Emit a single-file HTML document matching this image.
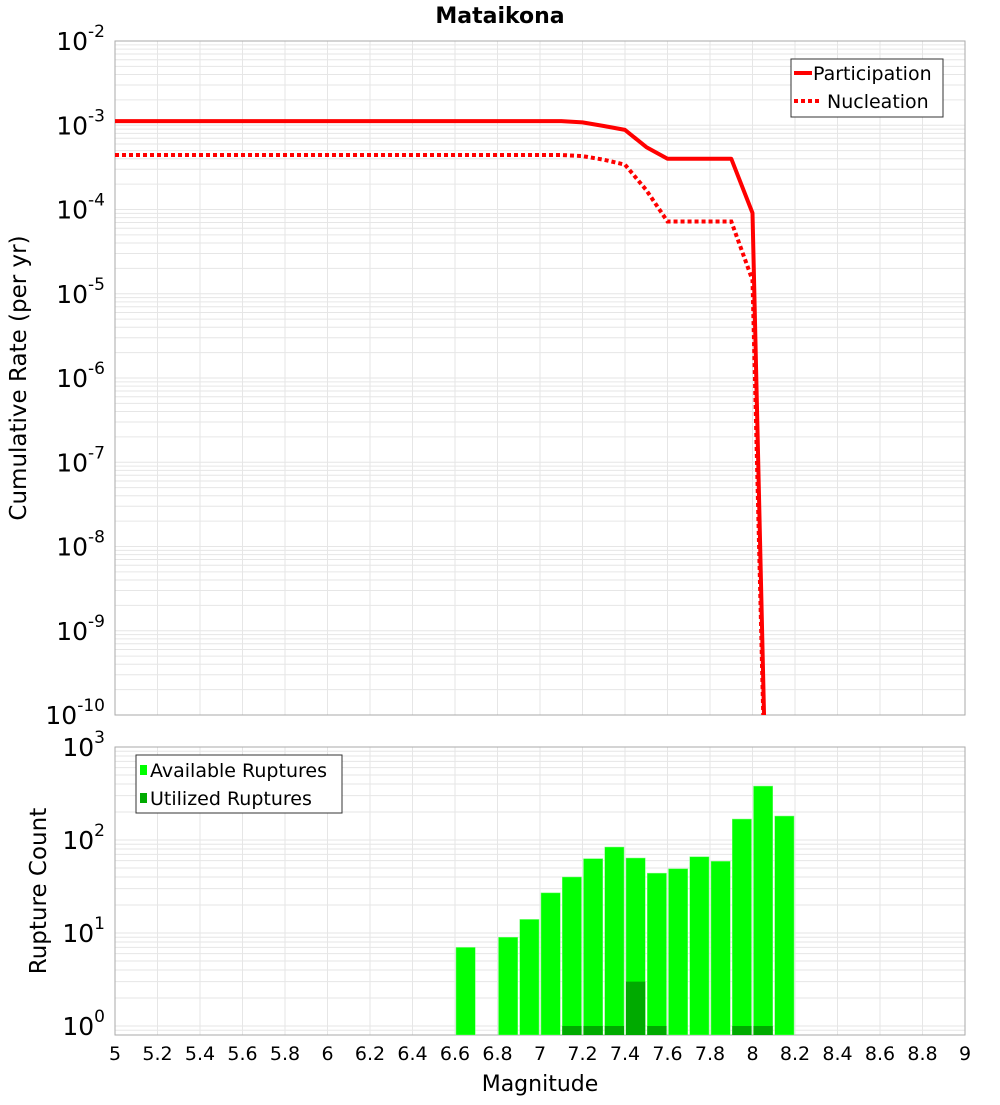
<!DOCTYPE html>
<html><head><meta charset="utf-8"><style>
body{margin:0;background:#fff;}
svg{font-family:"DejaVu Sans","Liberation Sans",sans-serif;}
</style></head><body>
<svg id="c" width="1000" height="1100" xmlns="http://www.w3.org/2000/svg"></svg>
<script>
const mags=[5.0,5.1,5.2,5.3,5.4,5.5,5.6,5.7,5.8,5.9,6.0,6.1,6.2,6.3,6.4,6.5,6.6,6.7,6.8,6.9,7.0,7.1,7.2,7.3,7.4,7.5,7.6,7.7,7.8,7.9,8.0,8.1];
const participation=[1.12e-3,1.12e-3,1.12e-3,1.12e-3,1.12e-3,1.12e-3,1.12e-3,1.12e-3,1.12e-3,1.12e-3,1.12e-3,1.12e-3,1.12e-3,1.12e-3,1.12e-3,1.12e-3,1.12e-3,1.12e-3,1.12e-3,1.12e-3,1.12e-3,1.12e-3,1.08e-3,9.8e-4,8.8e-4,5.5e-4,4.0e-4,4.0e-4,4.0e-4,4.0e-4,9.1e-5,1e-15];
const nucleation=[4.43e-4,4.43e-4,4.43e-4,4.43e-4,4.43e-4,4.43e-4,4.43e-4,4.43e-4,4.43e-4,4.43e-4,4.43e-4,4.43e-4,4.43e-4,4.43e-4,4.43e-4,4.43e-4,4.43e-4,4.43e-4,4.43e-4,4.43e-4,4.43e-4,4.43e-4,4.3e-4,3.9e-4,3.4e-4,1.7e-4,7.2e-5,7.2e-5,7.2e-5,7.2e-5,1.45e-5,1e-15];
const binMags=[6.65,6.85,6.95,7.05,7.15,7.25,7.35,7.45,7.55,7.65,7.75,7.85,7.95,8.05,8.15];
const available=[7,9,14,27,40,63,84,64,44,49,66,59,168,380,181];
const utilized=[0,0,0,0,1,1,1,3,1,0,0,0,1,1,0];
const xTicks=[5,5.2,5.4,5.6,5.8,6,6.2,6.4,6.6,6.8,7,7.2,7.4,7.6,7.8,8,8.2,8.4,8.6,8.8,9];
const topExp=[-10,-9,-8,-7,-6,-5,-4,-3,-2];
const botExp=[0,1,2,3];

const NS="http://www.w3.org/2000/svg";
const svg=document.getElementById('c');
function el(t,a,p){const e=document.createElementNS(NS,t);for(const k in a)e.setAttribute(k,a[k]);(p||svg).appendChild(e);return e;}
const X0=115,X1=965;
const x=m=>X0+(m-5)/4*(X1-X0);
const T0=41,T1=715;
const yT=v=>T0+(-2-Math.log10(v))*(T1-T0)/8;
const B0=747,B1=1035;
const yB=v=>1026-Math.log10(v)*93;

const defs=el('defs',{});
const cp1=el('clipPath',{id:'cp1'},defs);el('rect',{x:X0,y:T0,width:X1-X0,height:T1-T0},cp1);
const cp2=el('clipPath',{id:'cp2'},defs);el('rect',{x:X0,y:B0,width:X1-X0,height:B1-B0},cp2);

const g=el('g',{stroke:'#e6e6e6','stroke-width':1});


xTicks.forEach(t=>{el('line',{x1:x(t),x2:x(t),y1:T0,y2:T1},g);el('line',{x1:x(t),x2:x(t),y1:B0,y2:B1},g);});
for(let e=-10;e<-2;e++)for(let k=1;k<10;k++){const y=yT(k*Math.pow(10,e));el('line',{x1:X0,x2:X1,y1:y,y2:y},g);}
for(let e=-1;e<3;e++)for(let k=1;k<10;k++){const v=k*Math.pow(10,e);const y=yB(v);if(y<B0||y>B1)continue;el('line',{x1:X0,x2:X1,y1:y,y2:y},g);}

const f1=el('rect',{x:X0,y:T0,width:X1-X0,height:T1-T0,fill:'none',stroke:'#aaa'});

const f2=el('rect',{x:X0,y:B0,width:X1-X0,height:B1-B0,fill:'none',stroke:'#aaa'});


function pts(arr){return mags.map((m,i)=>x(m).toFixed(1)+','+yT(arr[i]).toFixed(1)).join(' ');}
const pl=el('polyline',{points:pts(participation),fill:'none',stroke:'#f00','stroke-width':4,'clip-path':'url(#cp1)','stroke-linejoin':'round'});

const nl=el('polyline',{points:pts(nucleation),fill:'none',stroke:'#f00','stroke-width':4,'stroke-dasharray':'4 3','clip-path':'url(#cp1)'});


const bw=x(0.1)-x(0)-2;
binMags.forEach((m,i)=>{
 const yt=yB(available[i]);
 const b=el('rect',{x:x(m)-bw/2,y:yt,width:bw,height:B1-yt,fill:'#00ff00',stroke:'#7f7','stroke-width':0.5,'clip-path':'url(#cp2)'});
 
 if(utilized[i]>0){const yu=yB(utilized[i]);
 const u=el('rect',{x:x(m)-bw/2,y:yu,width:bw,height:B1-yu,fill:'#00aa00','clip-path':'url(#cp2)'});
 }
});

function ylab(y,e,name){
 const t=el('text',{x:105,y:y+9,'text-anchor':'end','font-size':25,fill:'#000'});
 
 const a=el('tspan',{},t);a.textContent='10';
 const b=el('tspan',{dy:-13,'font-size':17},t);b.textContent=String(e);
}
topExp.forEach(e=>ylab(yT(Math.pow(10,e)),e,'top-y-tick'));
botExp.forEach(e=>ylab(yB(Math.pow(10,e)),e,'bottom-y-tick'));
xTicks.forEach(t=>{const s=el('text',{x:x(t),y:1060,'text-anchor':'middle','font-size':19});
 
 s.textContent=String(Math.round(t*10)/10);});

const tt=el('text',{x:500,y:23,'text-anchor':'middle','font-size':22,'font-weight':'bold'});tt.textContent='Mataikona';

const xt=el('text',{x:540,y:1091,'text-anchor':'middle','font-size':22});xt.textContent='Magnitude';

const y1=el('text',{x:0,y:0,'text-anchor':'middle','font-size':23,transform:'translate(26,378) rotate(-90)'});y1.textContent='Cumulative Rate (per yr)';

const y2=el('text',{x:0,y:0,'text-anchor':'middle','font-size':23,transform:'translate(46,891) rotate(-90)'});y2.textContent='Rupture Count';


const lg1=el('g',{});
el('rect',{x:791,y:59,width:152,height:58,fill:'#fff',stroke:'#333'},lg1);
el('line',{x1:794,x2:812,y1:73,y2:73,stroke:'#f00','stroke-width':4},lg1);
el('line',{x1:794,x2:822,y1:101,y2:101,stroke:'#f00','stroke-width':4,'stroke-dasharray':'4 3'},lg1);
const l1=el('text',{x:813,y:80,'font-size':19},lg1);l1.textContent='Participation';
const l2=el('text',{x:827,y:108,'font-size':19},lg1);l2.textContent='Nucleation';
const lg2=el('g',{});
el('rect',{x:136,y:755,width:206,height:58,fill:'#fff',stroke:'#333'},lg2);
el('rect',{x:140,y:765,width:7,height:10,fill:'#00ff00'},lg2);
el('rect',{x:140,y:793,width:7,height:10,fill:'#00aa00'},lg2);
const l3=el('text',{x:150,y:777,'font-size':19},lg2);l3.textContent='Available Ruptures';
const l4=el('text',{x:150,y:805,'font-size':19},lg2);l4.textContent='Utilized Ruptures';
</script>
</body></html>
